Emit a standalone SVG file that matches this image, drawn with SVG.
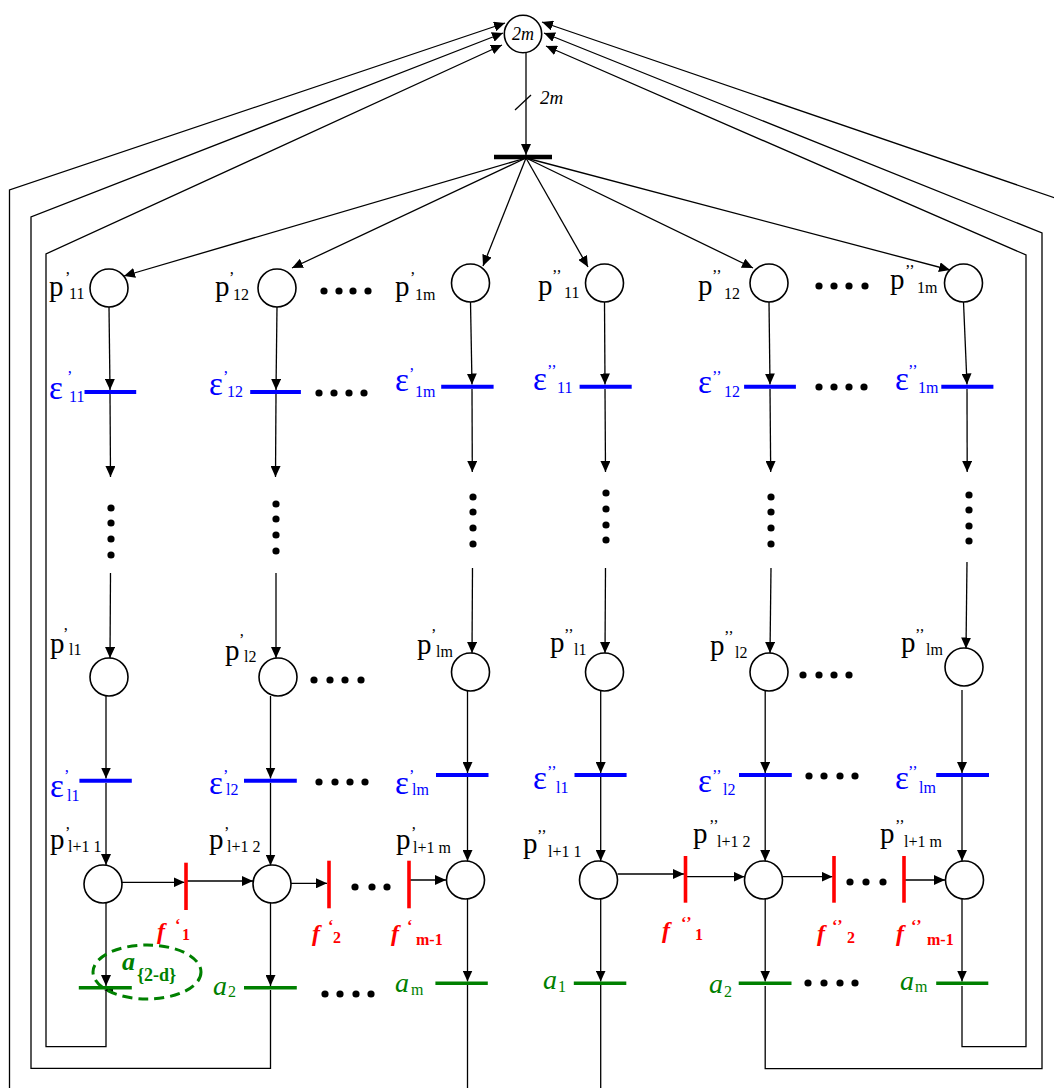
<svg xmlns="http://www.w3.org/2000/svg" width="1054" height="1088" viewBox="0 0 1054 1088">
<defs>
<marker id="ah" markerUnits="userSpaceOnUse" markerWidth="12" markerHeight="10" refX="11" refY="5" orient="auto"><path d="M0,0 L11,5 L0,10 z" fill="#000"/></marker>
<style>
.c{stroke:#000;stroke-width:1.3;fill:none}
.pl{fill:#fff;stroke:#000;stroke-width:1.6}
.tb{stroke:#000;stroke-width:4.5}
.eb{stroke:#0000ff;stroke-width:4}
.fb{stroke:#ff0000;stroke-width:3.6}
.ab{stroke:#008000;stroke-width:3.6}
text{font-family:"Liberation Serif","Times New Roman",serif}
.pt{font-size:29px;fill:#000}
.s{font-size:16px}
.et{font-size:33px;fill:#0000ff}
.ft{font-size:24px;fill:#ff0000;font-weight:bold;font-style:italic}
.fs{font-size:16px;font-style:normal}
.at{font-size:28px;fill:#008000;font-style:italic}
.as{font-size:16px;font-style:normal}
.d{fill:#000}
</style>
</defs>
<rect width="1054" height="1088" fill="#fff"/>

<g id="connectors" class="c">
<line x1="526" y1="53" x2="526" y2="155" marker-end="url(#ah)"/>
<line x1="515" y1="110" x2="531" y2="95"/>
<line x1="526" y1="158" x2="124" y2="276" marker-end="url(#ah)"/>
<line x1="526" y1="158" x2="292" y2="268" marker-end="url(#ah)"/>
<line x1="526" y1="158" x2="483" y2="266" marker-end="url(#ah)"/>
<line x1="526" y1="158" x2="588" y2="267" marker-end="url(#ah)"/>
<line x1="526" y1="158" x2="753" y2="268" marker-end="url(#ah)"/>
<line x1="526" y1="158" x2="950" y2="270" marker-end="url(#ah)"/>

<line x1="109" y1="307" x2="110" y2="390" marker-end="url(#ah)"/>
<line x1="277" y1="307" x2="276" y2="390" marker-end="url(#ah)"/>
<line x1="470.5" y1="302" x2="472" y2="384.5" marker-end="url(#ah)"/>
<line x1="604.5" y1="302" x2="605" y2="384.5" marker-end="url(#ah)"/>
<line x1="769" y1="302" x2="770" y2="384.5" marker-end="url(#ah)"/>
<line x1="963.5" y1="302" x2="967" y2="384.5" marker-end="url(#ah)"/>

<line x1="110" y1="394" x2="110.5" y2="477" marker-end="url(#ah)"/>
<line x1="276" y1="394" x2="275.5" y2="477" marker-end="url(#ah)"/>
<line x1="472" y1="389" x2="472.3" y2="472" marker-end="url(#ah)"/>
<line x1="605" y1="389" x2="605.5" y2="472" marker-end="url(#ah)"/>
<line x1="770" y1="389" x2="770.7" y2="472" marker-end="url(#ah)"/>
<line x1="967" y1="389" x2="967.2" y2="472" marker-end="url(#ah)"/>

<line x1="110.5" y1="573" x2="110" y2="658" marker-end="url(#ah)"/>
<line x1="276" y1="573" x2="276" y2="658" marker-end="url(#ah)"/>
<line x1="472.5" y1="568" x2="472" y2="653" marker-end="url(#ah)"/>
<line x1="605.5" y1="568" x2="605" y2="653" marker-end="url(#ah)"/>
<line x1="771" y1="568" x2="770" y2="653" marker-end="url(#ah)"/>
<line x1="967" y1="562" x2="966" y2="648.5" marker-end="url(#ah)"/>

<line x1="106" y1="695.5" x2="106" y2="778.5" marker-end="url(#ah)"/>
<line x1="270.5" y1="696" x2="270.5" y2="778.5" marker-end="url(#ah)"/>
<line x1="467.5" y1="690.5" x2="467.5" y2="773" marker-end="url(#ah)"/>
<line x1="600.7" y1="690.5" x2="600.7" y2="773" marker-end="url(#ah)"/>
<line x1="765.2" y1="690.5" x2="765.2" y2="773" marker-end="url(#ah)"/>
<line x1="962" y1="690" x2="962" y2="773" marker-end="url(#ah)"/>

<line x1="106" y1="783" x2="106" y2="865" marker-end="url(#ah)"/>
<line x1="270.5" y1="783" x2="270.5" y2="865.5" marker-end="url(#ah)"/>
<line x1="467.5" y1="777" x2="467.5" y2="861" marker-end="url(#ah)"/>
<line x1="600.7" y1="777" x2="600.7" y2="861" marker-end="url(#ah)"/>
<line x1="765.2" y1="777" x2="765.2" y2="861" marker-end="url(#ah)"/>
<line x1="962" y1="777" x2="962" y2="861" marker-end="url(#ah)"/>

<line x1="122" y1="882.3" x2="184.5" y2="882.3" marker-end="url(#ah)"/>
<line x1="186" y1="881" x2="253" y2="881" marker-end="url(#ah)"/>
<line x1="291" y1="883.3" x2="327" y2="883.3" marker-end="url(#ah)"/>
<line x1="409" y1="880" x2="446" y2="880" marker-end="url(#ah)"/>
<line x1="617.5" y1="874" x2="684" y2="874" marker-end="url(#ah)"/>
<line x1="685.5" y1="876.7" x2="744.5" y2="876.7" marker-end="url(#ah)"/>
<line x1="783" y1="876.7" x2="832.5" y2="876.7" marker-end="url(#ah)"/>
<line x1="904" y1="880" x2="945" y2="880" marker-end="url(#ah)"/>

<line x1="106" y1="902.5" x2="106" y2="986" marker-end="url(#ah)"/>
<line x1="270.5" y1="903" x2="270.5" y2="986" marker-end="url(#ah)"/>
<line x1="467.5" y1="899" x2="467.5" y2="981.5" marker-end="url(#ah)"/>
<line x1="600.7" y1="899" x2="600.7" y2="981.5" marker-end="url(#ah)"/>
<line x1="765.2" y1="899" x2="765.2" y2="981.5" marker-end="url(#ah)"/>
<line x1="962" y1="899" x2="962" y2="981.5" marker-end="url(#ah)"/>

<line x1="467.5" y1="985" x2="467.5" y2="1090"/>
<line x1="600.7" y1="985" x2="600.7" y2="1090"/>
<polygon points="104,990 113,986 113,994" fill="#000" stroke="none"/>

<polyline points="106,990 106,1046.7 46,1046.7 46,254 502,45" marker-end="url(#ah)"/>
<polyline points="270.5,990 270.5,1068.3 31,1068.3 31,217 503,33" marker-end="url(#ah)"/>
<polyline points="9.5,1092 9.5,190 505,23" marker-end="url(#ah)"/>
<polyline points="962,986 962,1046.7 1026,1046.7 1026,255 546,46" marker-end="url(#ah)"/>
<polyline points="765.2,986 765.2,1068.7 1042,1068.7 1042,233 544,33" marker-end="url(#ah)"/>
<polyline points="1058,199 542,22" marker-end="url(#ah)"/>
</g>

<g id="P0"><circle class="pl" cx="523" cy="34" r="18.7"/><text x="523" y="40" font-size="18" font-style="italic" text-anchor="middle">2m</text></g>
<g id="T0"><line class="tb" x1="494" y1="157" x2="552" y2="157"/><text x="540" y="104" font-size="19" font-style="italic">2m</text></g>

<g id="p1_11"><circle class="pl" cx="109" cy="288" r="19"/><text class="pt"><tspan x="49" y="296">p</tspan><tspan class="s" x="65" y="283">’</tspan><tspan class="s" x="69" y="299">11</tspan></text></g>
<g id="p1_12"><circle class="pl" cx="277" cy="288" r="19"/><text class="pt"><tspan x="215" y="296">p</tspan><tspan class="s" x="229" y="283">’</tspan><tspan class="s" x="233" y="300">12</tspan></text></g>
<g id="p1_1m"><circle class="pl" cx="470.5" cy="283" r="19"/><text class="pt"><tspan x="395" y="296">p</tspan><tspan class="s" x="410" y="283">’</tspan><tspan class="s" x="415" y="300">1m</tspan></text></g>
<g id="p2_11"><circle class="pl" cx="604.5" cy="283" r="19"/><text class="pt"><tspan x="538" y="295">p</tspan><tspan class="s" x="552" y="281">’’</tspan><tspan class="s" x="564" y="298">11</tspan></text></g>
<g id="p2_12"><circle class="pl" cx="769" cy="283" r="19"/><text class="pt"><tspan x="698" y="295">p</tspan><tspan class="s" x="712" y="281">’’</tspan><tspan class="s" x="724" y="299">12</tspan></text></g>
<g id="p2_1m"><circle class="pl" cx="963.5" cy="283" r="19"/><text class="pt"><tspan x="890" y="289">p</tspan><tspan class="s" x="905" y="276">’’</tspan><tspan class="s" x="917" y="293">1m</tspan></text></g>

<g id="e1_11"><line class="eb" x1="84.5" y1="392" x2="136.2" y2="392"/><text class="et"><tspan x="49" y="399">ε</tspan><tspan class="s" x="67" y="382">’</tspan><tspan class="s" x="69" y="402">11</tspan></text></g>
<g id="e1_12"><line class="eb" x1="250.2" y1="392" x2="300.9" y2="392"/><text class="et"><tspan x="209" y="395">ε</tspan><tspan class="s" x="223" y="382">’</tspan><tspan class="s" x="227" y="397">12</tspan></text></g>
<g id="e1_1m"><line class="eb" x1="441.2" y1="386.7" x2="493.6" y2="386.7"/><text class="et"><tspan x="395" y="391">ε</tspan><tspan class="s" x="409" y="379">’</tspan><tspan class="s" x="415" y="397">1m</tspan></text></g>
<g id="e2_11"><line class="eb" x1="579.6" y1="386.7" x2="631.7" y2="386.7"/><text class="et"><tspan x="533" y="390">ε</tspan><tspan class="s" x="547" y="376">’’</tspan><tspan class="s" x="557" y="393">11</tspan></text></g>
<g id="e2_12"><line class="eb" x1="744.1" y1="386.7" x2="795.9" y2="386.7"/><text class="et"><tspan x="698" y="393">ε</tspan><tspan class="s" x="712" y="382">’’</tspan><tspan class="s" x="724" y="397">12</tspan></text></g>
<g id="e2_1m"><line class="eb" x1="941.3" y1="386.7" x2="993.4" y2="386.7"/><text class="et"><tspan x="895" y="390">ε</tspan><tspan class="s" x="908" y="376">’’</tspan><tspan class="s" x="918" y="393">1m</tspan></text></g>

<g id="p1_l1"><circle class="pl" cx="109" cy="677" r="19"/><text class="pt"><tspan x="50" y="653">p</tspan><tspan class="s" x="63" y="639">’</tspan><tspan class="s" x="69" y="655">l1</tspan></text></g>
<g id="p1_l2"><circle class="pl" cx="278" cy="677" r="19"/><text class="pt"><tspan x="225" y="660">p</tspan><tspan class="s" x="239" y="645">’</tspan><tspan class="s" x="244" y="662">l2</tspan></text></g>
<g id="p1_lm"><circle class="pl" cx="470.5" cy="672" r="19"/><text class="pt"><tspan x="417" y="654">p</tspan><tspan class="s" x="431" y="640">’</tspan><tspan class="s" x="436" y="657">lm</tspan></text></g>
<g id="p2_l1"><circle class="pl" cx="604.5" cy="672" r="19"/><text class="pt"><tspan x="550" y="652">p</tspan><tspan class="s" x="564" y="640">’’</tspan><tspan class="s" x="574" y="655">l1</tspan></text></g>
<g id="p2_l2"><circle class="pl" cx="769" cy="672" r="19"/><text class="pt"><tspan x="710" y="655">p</tspan><tspan class="s" x="724" y="642">’’</tspan><tspan class="s" x="735" y="658">l2</tspan></text></g>
<g id="p2_lm"><circle class="pl" cx="964" cy="667" r="19"/><text class="pt"><tspan x="901" y="652">p</tspan><tspan class="s" x="915" y="640">’’</tspan><tspan class="s" x="926" y="655">lm</tspan></text></g>

<g id="e1_l1"><line class="eb" x1="79.4" y1="780.7" x2="131.8" y2="780.7"/><text class="et"><tspan x="50" y="797">ε</tspan><tspan class="s" x="64" y="781">’</tspan><tspan class="s" x="67" y="801">l1</tspan></text></g>
<g id="e1_l2"><line class="eb" x1="244" y1="780.7" x2="296.8" y2="780.7"/><text class="et"><tspan x="209" y="794">ε</tspan><tspan class="s" x="223" y="781">’</tspan><tspan class="s" x="226" y="795">l2</tspan></text></g>
<g id="e1_lm"><line class="eb" x1="436" y1="775" x2="488.5" y2="775"/><text class="et"><tspan x="395" y="794">ε</tspan><tspan class="s" x="409" y="781">’</tspan><tspan class="s" x="412" y="795">lm</tspan></text></g>
<g id="e2_l1"><line class="eb" x1="574.5" y1="775" x2="626.6" y2="775"/><text class="et"><tspan x="533" y="789">ε</tspan><tspan class="s" x="547" y="777">’’</tspan><tspan class="s" x="556" y="793">l1</tspan></text></g>
<g id="e2_l2"><line class="eb" x1="739" y1="775" x2="791.8" y2="775"/><text class="et"><tspan x="698" y="792">ε</tspan><tspan class="s" x="712" y="781">’’</tspan><tspan class="s" x="723" y="795">l2</tspan></text></g>
<g id="e2_lm"><line class="eb" x1="936.2" y1="775" x2="989" y2="775"/><text class="et"><tspan x="895" y="789">ε</tspan><tspan class="s" x="908" y="777">’’</tspan><tspan class="s" x="919" y="793">lm</tspan></text></g>

<g id="p1_l+1_1"><circle class="pl" cx="103" cy="884" r="19"/><text class="pt"><tspan x="50" y="849">p</tspan><tspan class="s" x="65" y="838">’</tspan><tspan class="s" x="68" y="852">l+1 1</tspan></text></g>
<g id="p1_l+1_2"><circle class="pl" cx="272" cy="884" r="19"/><text class="pt"><tspan x="209" y="849">p</tspan><tspan class="s" x="224" y="838">’</tspan><tspan class="s" x="227" y="852">l+1 2</tspan></text></g>
<g id="p1_l+1_m"><circle class="pl" cx="465.5" cy="880" r="19"/><text class="pt"><tspan x="396" y="849">p</tspan><tspan class="s" x="411" y="838">’</tspan><tspan class="s" x="413" y="853">l+1 m</tspan></text></g>
<g id="p2_l+1_1"><circle class="pl" cx="598.5" cy="880" r="19"/><text class="pt"><tspan x="523" y="853">p</tspan><tspan class="s" x="537" y="841">’’</tspan><tspan class="s" x="548" y="857">l+1 1</tspan></text></g>
<g id="p2_l+1_2"><circle class="pl" cx="763.5" cy="880" r="19"/><text class="pt"><tspan x="693" y="843">p</tspan><tspan class="s" x="709" y="831">’’</tspan><tspan class="s" x="717" y="847">l+1 2</tspan></text></g>
<g id="p2_l+1_m"><circle class="pl" cx="964.5" cy="880" r="19"/><text class="pt"><tspan x="880" y="843">p</tspan><tspan class="s" x="895" y="831">’’</tspan><tspan class="s" x="904" y="847">l+1 m</tspan></text></g>

<g id="f1_1"><line class="fb" x1="186" y1="862.7" x2="186" y2="910"/><text class="ft"><tspan x="157" y="939">f</tspan><tspan class="fs" x="175" y="930">‘</tspan><tspan class="fs" x="182" y="940">1</tspan></text></g>
<g id="f1_2"><line class="fb" x1="329" y1="860.7" x2="329" y2="908.3"/><text class="ft"><tspan x="312" y="941">f</tspan><tspan class="fs" x="328" y="931">‘</tspan><tspan class="fs" x="333" y="943">2</tspan></text></g>
<g id="f1_m-1"><line class="fb" x1="409" y1="860.7" x2="409" y2="908.3"/><text class="ft"><tspan x="391" y="941">f</tspan><tspan class="fs" x="407" y="931">‘</tspan><tspan class="fs" x="416" y="945">m-1</tspan></text></g>
<g id="f2_1"><line class="fb" x1="685.5" y1="856" x2="685.5" y2="902.7"/><text class="ft"><tspan x="662" y="938">f</tspan><tspan class="fs" x="681" y="928">‘’</tspan><tspan class="fs" x="695" y="940">1</tspan></text></g>
<g id="f2_2"><line class="fb" x1="834" y1="856" x2="834" y2="902.7"/><text class="ft"><tspan x="817" y="941">f</tspan><tspan class="fs" x="832" y="931">‘’</tspan><tspan class="fs" x="847" y="943">2</tspan></text></g>
<g id="f2_m-1"><line class="fb" x1="904" y1="856" x2="904" y2="902.7"/><text class="ft"><tspan x="896" y="941">f</tspan><tspan class="fs" x="911" y="931">‘’</tspan><tspan class="fs" x="927" y="945">m-1</tspan></text></g>

<g id="a1_1"><line class="ab" x1="78.8" y1="987.7" x2="131.8" y2="987.7"/><ellipse cx="147" cy="972" rx="54" ry="27" fill="none" stroke="#008000" stroke-width="3" stroke-dasharray="10,6"/><text fill="#008000" font-weight="bold"><tspan x="122" y="970" font-size="26" font-style="italic">a</tspan><tspan x="137" y="981" font-size="18">{2-d}</tspan></text></g>
<g id="a1_2"><line class="ab" x1="244" y1="987.7" x2="296.8" y2="987.7"/><text class="at"><tspan x="213" y="995">a</tspan><tspan class="as" x="228" y="997">2</tspan></text></g>
<g id="a1_m"><line class="ab" x1="435.4" y1="983.3" x2="487.8" y2="983.3"/><text class="at"><tspan x="395" y="992">a</tspan><tspan class="as" x="411" y="995">m</tspan></text></g>
<g id="a2_1"><line class="ab" x1="573.8" y1="983.3" x2="626.3" y2="983.3"/><text class="at"><tspan x="543" y="989">a</tspan><tspan class="as" x="558" y="992">1</tspan></text></g>
<g id="a2_2"><line class="ab" x1="738.7" y1="983.3" x2="791.5" y2="983.3"/><text class="at"><tspan x="709" y="993">a</tspan><tspan class="as" x="724" y="997">2</tspan></text></g>
<g id="a2_m"><line class="ab" x1="936.2" y1="983.3" x2="988.3" y2="983.3"/><text class="at"><tspan x="900" y="990">a</tspan><tspan class="as" x="915" y="992">m</tspan></text></g>

<g id="ellipsis-dots" class="d">
<circle cx="324" cy="291" r="3.6"/><circle cx="339" cy="291" r="3.6"/><circle cx="353" cy="291" r="3.6"/><circle cx="368" cy="291" r="3.6"/>
<circle cx="819" cy="286" r="3.6"/><circle cx="834" cy="286" r="3.6"/><circle cx="849" cy="286" r="3.6"/><circle cx="865" cy="286" r="3.6"/>
<circle cx="319" cy="393" r="3.6"/><circle cx="334" cy="393" r="3.6"/><circle cx="349" cy="393" r="3.6"/><circle cx="364" cy="393" r="3.6"/>
<circle cx="819" cy="387" r="3.6"/><circle cx="834" cy="387" r="3.6"/><circle cx="849" cy="387" r="3.6"/><circle cx="864" cy="387" r="3.6"/>
<circle cx="314" cy="680" r="3.6"/><circle cx="330" cy="680" r="3.6"/><circle cx="345" cy="680" r="3.6"/><circle cx="361" cy="680" r="3.6"/>
<circle cx="803" cy="675" r="3.6"/><circle cx="819" cy="675" r="3.6"/><circle cx="834" cy="675" r="3.6"/><circle cx="849" cy="675" r="3.6"/>
<circle cx="319" cy="782" r="3.6"/><circle cx="335" cy="782" r="3.6"/><circle cx="350" cy="782" r="3.6"/><circle cx="365" cy="782" r="3.6"/>
<circle cx="809" cy="776" r="3.6"/><circle cx="824" cy="776" r="3.6"/><circle cx="840" cy="776" r="3.6"/><circle cx="855" cy="776" r="3.6"/>
<circle cx="355" cy="887" r="3.6"/><circle cx="372" cy="887" r="3.6"/><circle cx="387" cy="887" r="3.6"/>
<circle cx="850" cy="882" r="3.6"/><circle cx="866" cy="882" r="3.6"/><circle cx="883" cy="882" r="3.6"/>
<circle cx="325" cy="994" r="3.6"/><circle cx="340" cy="994" r="3.6"/><circle cx="356" cy="994" r="3.6"/><circle cx="371" cy="994" r="3.6"/>
<circle cx="808" cy="983" r="3.6"/><circle cx="824" cy="983" r="3.6"/><circle cx="840" cy="983" r="3.6"/><circle cx="855" cy="983" r="3.6"/>
<circle cx="111" cy="508" r="3.6"/><circle cx="111" cy="523" r="3.6"/><circle cx="111" cy="539" r="3.6"/><circle cx="111" cy="555" r="3.6"/>
<circle cx="276" cy="504" r="3.6"/><circle cx="276" cy="519" r="3.6"/><circle cx="276" cy="535" r="3.6"/><circle cx="276" cy="551" r="3.6"/>
<circle cx="473" cy="497" r="3.6"/><circle cx="473" cy="512" r="3.6"/><circle cx="473" cy="528" r="3.6"/><circle cx="473" cy="544" r="3.6"/>
<circle cx="606" cy="493" r="3.6"/><circle cx="606" cy="509" r="3.6"/><circle cx="606" cy="525" r="3.6"/><circle cx="606" cy="540" r="3.6"/>
<circle cx="771" cy="497" r="3.6"/><circle cx="771" cy="512" r="3.6"/><circle cx="771" cy="528" r="3.6"/><circle cx="771" cy="544" r="3.6"/>
<circle cx="969" cy="495" r="3.6"/><circle cx="969" cy="510" r="3.6"/><circle cx="969" cy="526" r="3.6"/><circle cx="969" cy="541" r="3.6"/>
</g>
</svg>
